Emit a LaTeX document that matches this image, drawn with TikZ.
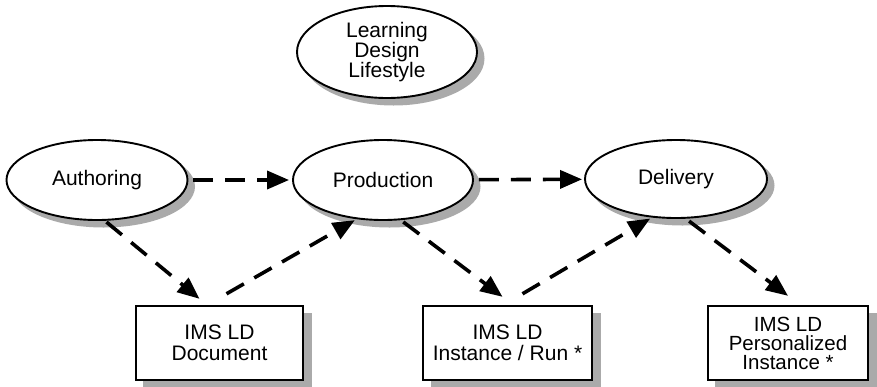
\documentclass[tikz,border=0pt]{standalone}
\usepackage{fontspec}
\setmainfont{Liberation Sans}
\usetikzlibrary{shapes.geometric,arrows.meta}
\definecolor{shadowgray}{RGB}{170,170,170}
\begin{document}
\begin{tikzpicture}[x=1pt,y=-1pt,
  shadowfill/.style={fill=shadowgray},
  ell/.style={ellipse, draw, line width=1.9pt, fill=white, inner sep=0pt,
    font=\fontsize{21}{20}\selectfont, align=center},
  box/.style={rectangle, draw, line width=2.4pt, fill=white, minimum height=74pt,
    inner sep=0pt, font=\fontsize{21}{21}\selectfont, align=center},
  dasharrow/.style={line width=3.6pt, dash pattern=on 20pt off 12pt,
    -{Triangle[length=22pt,width=18pt]}}
]
\useasboundingbox (0,0) rectangle (877,386);

% shadows
\fill[shadowfill] (393.5,58.5) ellipse [x radius=91pt, y radius=47pt];
\fill[shadowfill] (103.5,186.5) ellipse [x radius=91.5pt, y radius=41pt];
\fill[shadowfill] (389.5,186.5) ellipse [x radius=91pt, y radius=41pt];
\fill[shadowfill] (682.5,185.5) ellipse [x radius=92pt, y radius=40pt];
\fill[shadowfill] (142.8,312.8) rectangle (312.2,388.2);
\fill[shadowfill] (430.8,312.8) rectangle (601.2,388.2);
\fill[shadowfill] (714.8,312.8) rectangle (877,388.2);

\node[ell, minimum width=180pt, minimum height=92pt] (ldl) at (387,52) {Learning\\Design\\Lifestyle};
\node[ell, minimum width=181pt, minimum height=80pt] (auth) at (97,180) {Authoring};
\node[ell, minimum width=180pt, minimum height=80pt] (prod) at (383,180) {Production};
\node[ell, minimum width=182pt, minimum height=78pt] (del) at (676,179) {Delivery};

\node[box, minimum width=167pt] (doc) at (219.5,343) {IMS LD\\Document};
\node[box, minimum width=169pt] (inst) at (507.5,343) {IMS LD\\Instance / Run *};
\node[box, minimum width=160pt, font=\fontsize{20.5}{19}\selectfont] (pers) at (788,343) {IMS LD\\Personalized\\Instance *};

\draw[dasharrow, shorten <=5pt, shorten >=3pt] (auth) -- (prod);
\draw[dasharrow, shorten <=5pt, shorten >=2pt] (prod) -- (del);
\draw[dasharrow, shorten <=2pt] (auth.-79) -- ([xshift=-20pt,yshift=6pt]doc.north);
\draw[dasharrow, shorten >=2pt] ([xshift=7pt,yshift=11pt]doc.north) -- (prod.-124);
\draw[dasharrow, shorten <=3pt] (prod.-66) -- ([xshift=-5pt,yshift=8pt]inst.north);
\draw[dasharrow, shorten >=2pt] ([xshift=15pt,yshift=11pt]inst.north) -- (del.-122);
\draw[dasharrow, shorten <=4pt] (del.-76) -- ([yshift=9pt]pers.north);
\end{tikzpicture}
\end{document}
